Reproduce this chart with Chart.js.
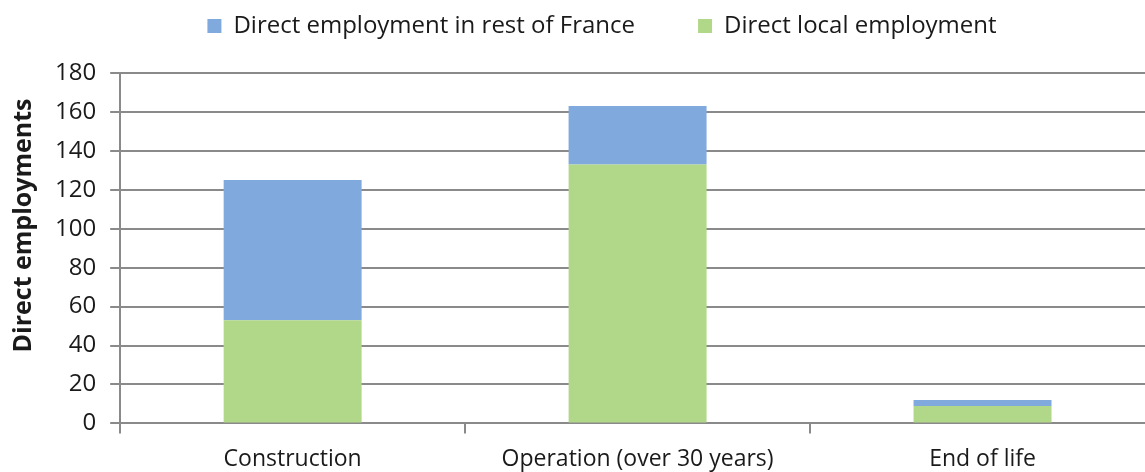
<!DOCTYPE html>
<html>
<head>
<meta charset="utf-8">
<script src="https://cdn.jsdelivr.net/npm/chart.js@4/dist/chart.umd.min.js"></script>
<style>
  html, body { margin: 0; padding: 0; background: #fff; overflow: hidden; }
  #wrap { width: 1160px; height: 472px; }
</style>
</head>
<body>
<div id="wrap"><canvas id="jobs-chart"></canvas></div>
<script>
const phases = ['Construction', 'Operation (over 30 years)', 'End of life'];
const localJobs = [53, 133, 9];
const restOfFranceJobs = [72, 30, 3];
const yTicks = [0, 20, 40, 60, 80, 100, 120, 140, 160, 180];

const gridGray = '#8a8a8a';
const textColor = '#1a1a1a';

Chart.defaults.font.family = '"Open Sans", sans-serif';
Chart.defaults.color = textColor;

// extra room under the legend, and nudge it a little to the right
const legendTweak = {
  id: 'legendTweak',
  beforeInit(chart) {
    const fit = chart.legend.fit;
    chart.legend.fit = function () {
      fit.bind(chart.legend)();
      this.height += 25;
    };
  },
  afterLayout(chart) {
    chart.legend.left += 20;
    chart.legend.right += 20;
  }
};

new Chart(document.getElementById('jobs-chart'), {
  type: 'bar',
  data: {
    labels: phases,
    datasets: [
      {
        label: 'Direct local employment',
        data: localJobs,
        backgroundColor: '#b1d889'
      },
      {
        label: 'Direct employment in rest of France',
        data: restOfFranceJobs,
        backgroundColor: '#80aadd'
      }
    ]
  },
  plugins: [legendTweak],
  options: {
    responsive: true,
    maintainAspectRatio: false,
    animation: false,
    layout: { padding: { top: -49, left: 9, right: 5, bottom: -13 } },
    datasets: {
      bar: { barPercentage: 0.8, categoryPercentage: 0.5 }
    },
    plugins: {
      legend: {
        position: 'top',
        reverse: true,
        labels: {
          font: { size: 24 },
          boxWidth: 14,
          boxHeight: 14,
          padding: 63
        }
      },
      tooltip: { enabled: false }
    },
    scales: {
      x: {
        stacked: true,
        offset: true,
        grid: {
          offset: true,
          drawOnChartArea: false,
          color: gridGray,
          lineWidth: 2,
          tickLength: 10
        },
        border: { color: gridGray, width: 2 },
        ticks: { font: { size: 23 }, padding: 12 }
      },
      y: {
        stacked: true,
        min: 0,
        max: 180,
        afterBuildTicks: axis => { axis.ticks = yTicks.map(v => ({ value: v })); },
        grid: {
          color: gridGray,
          lineWidth: 2,
          tickLength: 10
        },
        border: { color: gridGray, width: 2 },
        ticks: { font: { size: 24 }, padding: 14 },
        title: {
          display: true,
          // leading spaces lift the title toward the upper part of the axis
          text: '       Direct employments',
          font: { size: 25, weight: 'bold' },
          padding: { top: 0, bottom: 2 }
        }
      }
    }
  }
});
</script>
</body>
</html>
